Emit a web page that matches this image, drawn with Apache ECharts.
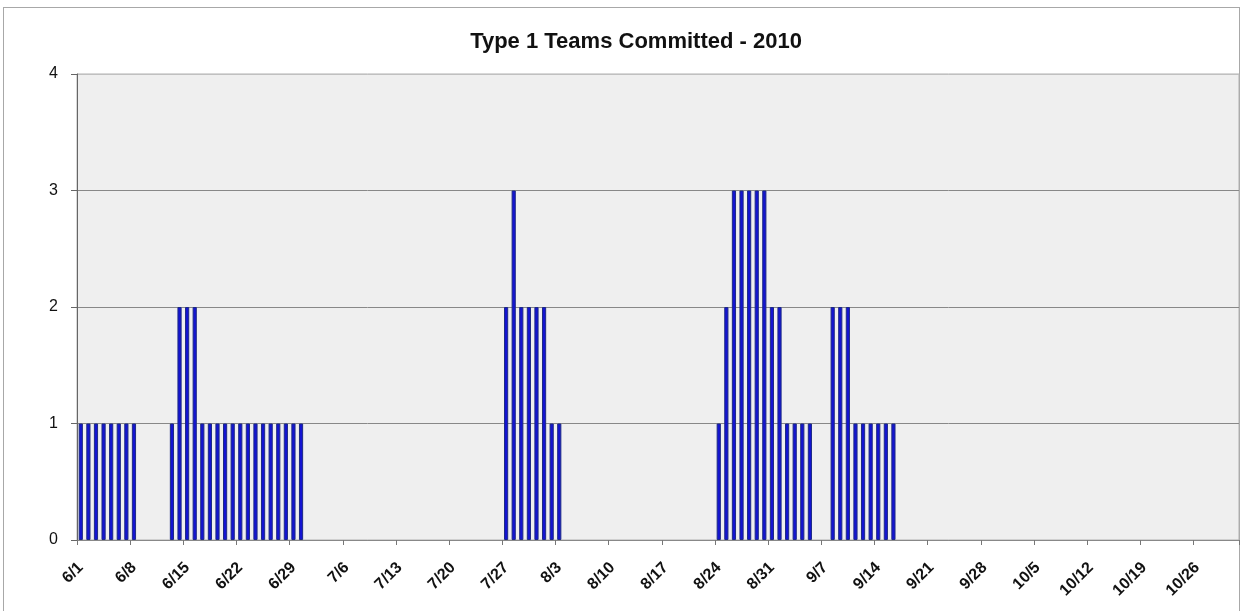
<!DOCTYPE html>
<html>
<head>
<meta charset="utf-8">
<script src="https://cdn.jsdelivr.net/npm/echarts@6/dist/echarts.min.js"></script>
<style>
html,body{margin:0;padding:0;background:#fff;}
#frame{position:absolute;left:3px;top:7px;width:1237px;height:610px;border:1px solid #a8a8a8;box-sizing:border-box;}
#chart{position:absolute;left:0;top:0;width:1248px;height:611px;}
</style>
</head>
<body>
<div id="frame"></div>
<div id="chart"></div>
<script>
// Months covered (month number, days)
const months = [[6, 30], [7, 31], [8, 31], [9, 30], [10, 31]];
// Daily values per month
const juneValues = [1,1,1,1,1,1,1,1, 0,0,0,0, 1, 2,2,2, 1,1,1,1,1,1,1,1,1,1,1,1,1,1];
const julyValues = [0,0,0,0,0,0,0,0,0,0,0,0,0,0,0,0,0,0,0,0,0,0,0,0,0,0, 2,3,2,2,2];
const augValues  = [2,1,1, 0,0,0,0,0,0,0,0,0,0,0,0,0,0,0,0,0,0,0,0, 1,2,3,3,3,3,3,2];
const sepValues  = [2,1,1,1,1, 0,0, 2,2,2, 1,1,1,1,1,1, 0,0,0,0,0,0,0,0,0,0,0,0,0,0];
const octValues  = [0,0,0,0,0,0,0,0,0,0,0,0,0,0,0,0,0,0,0,0,0,0,0,0,0,0,0,0,0,0,0];
const yTicks = [0, 1, 2, 3, 4];

const categories = [];
months.forEach(([m, n]) => { for (let d = 1; d <= n; d++) categories.push(m + '/' + d); });
const values = [].concat(juneValues, julyValues, augValues, sepValues, octValues);
// zero days draw no bar at all
const barData = values.map(v => (v === 0 ? null : v));

const chart = echarts.init(document.getElementById('chart'));
chart.setOption({
  backgroundColor: 'transparent',
  animation: false,
  title: {
    text: 'Type 1 Teams Committed - 2010',
    left: 631, top: 26, textAlign: 'center',
    textStyle: { fontFamily: 'Liberation Sans, Arial, sans-serif', fontSize: 22, fontWeight: 'bold', color: '#111' }
  },
  grid: {
    left: 77, top: 74, right: 9, bottom: 71,
    show: true, backgroundColor: '#efefef', borderColor: '#b0b0b0', borderWidth: 1
  },
  xAxis: {
    type: 'category',
    data: categories,
    boundaryGap: true,
    axisLine: { lineStyle: { color: '#888', width: 1 } },
    axisTick: { show: true, alignWithLabel: false, length: 5, interval: (i) => i % 7 === 0, lineStyle: { color: '#777' } },
    axisLabel: {
      interval: (i) => i % 7 === 0,
      rotate: 45, margin: 25,
      fontFamily: 'Liberation Sans, Arial, sans-serif', fontSize: 16, fontWeight: 'bold', color: '#111'
    },
    splitLine: { show: false }
  },
  yAxis: {
    type: 'value',
    min: yTicks[0], max: yTicks[yTicks.length - 1], interval: 1,
    axisLine: { show: true, lineStyle: { color: '#666', width: 1 } },
    axisTick: { show: true, length: 6, lineStyle: { color: '#666' } },
    axisLabel: { margin: 19, fontFamily: 'Liberation Sans, Arial, sans-serif', fontSize: 16, color: '#111' },
    splitLine: { show: true, lineStyle: { color: ['#888', '#888', '#888', '#888', '#c0c0c0'], width: 1 } }
  },
  series: [{
    type: 'bar',
    data: barData,
    barWidth: '55%',
    itemStyle: { color: '#1414d2', borderColor: '#1d2a85', borderWidth: 1 }
  }]
});
</script>
</body>
</html>
